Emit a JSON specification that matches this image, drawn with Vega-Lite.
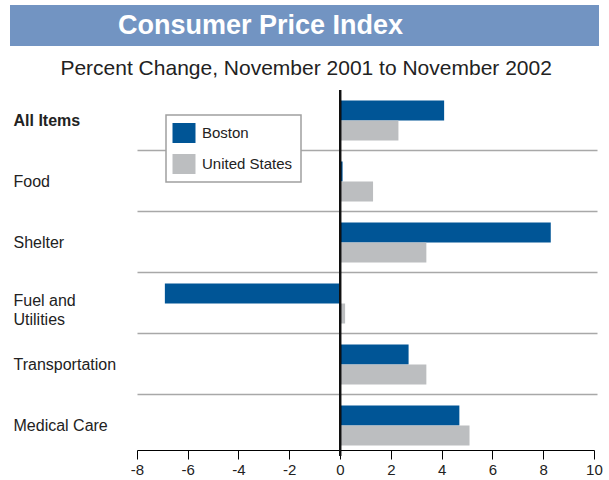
{
  "$schema": "https://vega.github.io/schema/vega-lite/v6.json",
  "padding": {"left": 10, "top": 5, "right": 10, "bottom": 5},
  "config": {
    "font": "Liberation Sans",
    "view": {"stroke": null},
    "concat": {"spacing": 12},
    "legend": {"strokeWidth": 1.5}
  },
  "resolve": {"scale": {"color": "independent"}, "legend": {"color": "independent"}},
  "vconcat": [
    {
      "width": 589,
      "height": 41,
      "view": {"fill": "#7294c2", "stroke": null},
      "data": {"values": [{"t": "Consumer Price Index"}]},
      "mark": {"type": "text", "color": "#ffffff", "font": "Liberation Sans", "fontWeight": "bold", "fontSize": 27, "baseline": "middle", "align": "center", "dx": -44},
      "encoding": {"text": {"field": "t"}}
    },
    {
      "width": 589,
      "height": 366,
      "title": {
        "text": "Percent Change, November 2001 to November 2002",
        "fontSize": 21,
        "fontWeight": "normal",
        "color": "#222222",
        "anchor": "middle",
        "frame": "bounds",
        "offset": 10
      },
      "data": {
        "values": [
          {"category": "All Items", "region": "Boston", "value": 4.1},
          {"category": "All Items", "region": "United States", "value": 2.3},
          {"category": "Food", "region": "Boston", "value": 0.1},
          {"category": "Food", "region": "United States", "value": 1.3},
          {"category": "Shelter", "region": "Boston", "value": 8.3},
          {"category": "Shelter", "region": "United States", "value": 3.4},
          {"category": "Fuel and Utilities", "region": "Boston", "value": -6.9},
          {"category": "Fuel and Utilities", "region": "United States", "value": 0.2},
          {"category": "Transportation", "region": "Boston", "value": 2.7},
          {"category": "Transportation", "region": "United States", "value": 3.4},
          {"category": "Medical Care", "region": "Boston", "value": 4.7},
          {"category": "Medical Care", "region": "United States", "value": 5.1}
        ]
      },
      "layer": [
        {
          "mark": {"type": "bar"},
          "encoding": {
            "y": {
              "field": "category",
              "type": "nominal",
              "sort": ["All Items", "Food", "Shelter", "Fuel and Utilities", "Transportation", "Medical Care"],
              "scale": {"paddingInner": 0.344, "paddingOuter": 0.172},
              "axis": {
                "title": null,
                "domain": false,
                "ticks": false,
                "tickSize": 0,
                "grid": true,
                "bandPosition": -0.2625,
                "gridColor": "#a8a8a8",
                "gridWidth": 1.5,
                "gridDash": [0, 127, 460, 100],
                "gridOpacity": {"condition": {"test": "datum.value === 'All Items'", "value": 0}, "value": 1},
                "labelAlign": "left",
                "labelPadding": -3,
                "labelFontSize": 16,
                "labelColor": "#222222",
                "labelLineHeight": 19,
                "labelFontWeight": {"condition": {"test": "datum.value === 'All Items'", "value": "bold"}, "value": "normal"},
                "labelOffset": {"condition": {"test": "datum.value === 'Fuel and Utilities'", "value": -3}, "value": 0},
                "labelExpr": "datum.value === 'Fuel and Utilities' ? ['Fuel and', 'Utilities'] : datum.value"
              }
            },
            "yOffset": {"field": "region", "type": "nominal", "sort": ["Boston", "United States"]},
            "x": {
              "field": "value",
              "type": "quantitative",
              "scale": {"domain": [-13, 10.2], "nice": false, "zero": false},
              "axis": {
                "title": null,
                "values": [-8, -6, -4, -2, 0, 2, 4, 6, 8, 10],
                "labelExpr": "'' + datum.value",
                "grid": false,
                "offset": -6,
                "domainColor": "#000000",
                "domainWidth": 1,
                "domainDash": [0, 127, 457, 100],
                "tickColor": "#000000",
                "tickSize": 9,
                "labelPadding": 3,
                "labelFontSize": 15,
                "labelColor": "#222222"
              }
            },
            "color": {
              "field": "region",
              "type": "nominal",
              "sort": ["Boston", "United States"],
              "scale": {"domain": ["Boston", "United States"], "range": ["#005596", "#bcbec0"]},
              "legend": {
                "title": null,
                "orient": "none",
                "legendX": 156,
                "legendY": 25,
                "direction": "vertical",
                "fillColor": "#ffffff",
                "strokeColor": "#a0a0a0",
                "padding": 8,
                "cornerRadius": 0,
                "symbolType": "M-1.15,-1H1.15V1H-1.15Z",
                "symbolSize": 400,
                "symbolStrokeWidth": 0,
                "symbolOpacity": 1,
                "labelFontSize": 15,
                "labelColor": "#222222",
                "labelOffset": 8,
                "rowPadding": 11
              }
            }
          }
        },
        {
          "mark": {"type": "rule", "color": "#111111", "strokeWidth": 2},
          "encoding": {"x": {"datum": 0}}
        }
      ]
    }
  ]
}
